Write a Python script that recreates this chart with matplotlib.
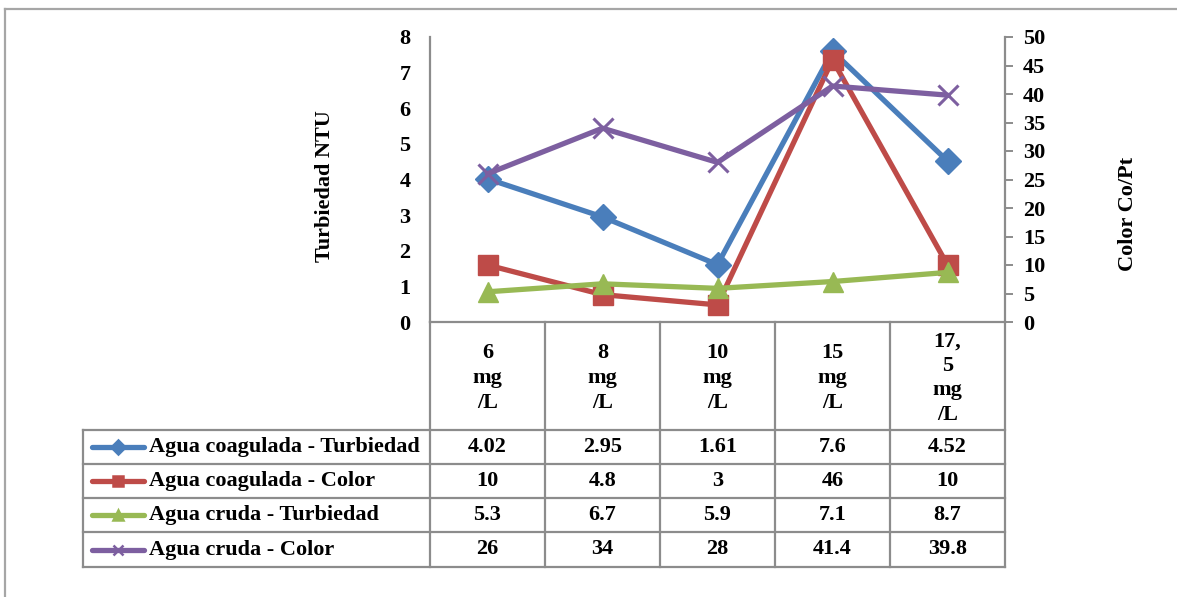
import matplotlib
matplotlib.use("Agg")
import matplotlib.pyplot as plt
from matplotlib.lines import Line2D

W, H = 1177, 597
DPI = 100

categories = ["6\nmg\n/L", "8\nmg\n/L", "10\nmg\n/L", "15\nmg\n/L", "17,\n5\nmg\n/L"]
coag_turb = [4.02, 2.95, 1.61, 7.6, 4.52]
coag_color = [10, 4.8, 3, 46, 10]
cruda_turb = [5.3, 6.7, 5.9, 7.1, 8.7]
cruda_color = [26, 34, 28, 41.4, 39.8]
series_names = ["Agua coagulada - Turbiedad", "Agua coagulada - Color",
                "Agua cruda - Turbiedad", "Agua cruda - Color"]
left_ticks = [0, 1, 2, 3, 4, 5, 6, 7, 8]
right_ticks = [0, 5, 10, 15, 20, 25, 30, 35, 40, 45, 50]

colors = ["#4A7EBB", "#BE4B48", "#98B954", "#7D5FA0"]
markers = ["D", "s", "^", "x"]
msizes = [13, 14, 14, 14]
FONT = "Liberation Serif"
GRID = "#8c8c8c"
FS = 16

plt.rcParams["font.family"] = [FONT, "DejaVu Serif"]
plt.rcParams["font.weight"] = "bold"

fig = plt.figure(figsize=(W / DPI, H / DPI), dpi=DPI)


def fx(x):
    return x / W


def fy(y):
    return 1 - y / H


# plot area in pixels
L, R, T, B = 430, 1005, 37, 322
ax = fig.add_axes([fx(L), fy(B), fx(R - L), (B - T) / H])
ax2 = ax.twinx()
n = len(categories)
xs = list(range(n))

ax.set_xlim(-0.5, n - 0.5)
ax.set_ylim(0, 8)
ax2.set_ylim(0, 50)
ax.set_yticks(left_ticks)
ax2.set_yticks(right_ticks)
ax.set_xticks([])

for a in (ax, ax2):
    for s in a.spines.values():
        s.set_visible(False)
ax.spines["left"].set_visible(True)
ax.spines["left"].set_color(GRID)
ax.spines["left"].set_linewidth(1.6)
ax.spines["bottom"].set_visible(True)
ax.spines["bottom"].set_color(GRID)
ax.spines["bottom"].set_linewidth(1.6)
ax2.spines["right"].set_visible(True)
ax2.spines["right"].set_color(GRID)
ax2.spines["right"].set_linewidth(1.6)

ax.tick_params(axis="y", length=0, pad=14, labelsize=FS)
ax2.tick_params(axis="y", length=6, width=1.4, color=GRID, pad=7, labelsize=FS)
for lab in ax.get_yticklabels() + ax2.get_yticklabels():
    lab.set_fontweight("bold")

lw = 3.8
ax.plot(xs, coag_turb, color=colors[0], marker=markers[0], ms=msizes[0], lw=lw,
        solid_capstyle="round", zorder=3, clip_on=False)
ax2.plot(xs, coag_color, color=colors[1], marker=markers[1], ms=msizes[1], lw=lw,
         solid_capstyle="round", zorder=3, clip_on=False)
ax2.plot(xs, cruda_turb, color=colors[2], marker=markers[2], ms=msizes[2], lw=lw,
         solid_capstyle="round", zorder=3, clip_on=False)
ax2.plot(xs, cruda_color, color=colors[3], marker=markers[3], ms=msizes[3], lw=lw,
         mew=2.2, solid_capstyle="round", zorder=3, clip_on=False)

# axis titles
fig.text(fx(325), fy(186), "Turbiedad NTU", rotation=90, ha="center", va="center",
         fontsize=FS, fontweight="bold")
fig.text(fx(1128), fy(214), "Color Co/Pt", rotation=90, ha="center", va="center",
         fontsize=FS, fontweight="bold")

# outer frame
fig.add_artist(Line2D([fx(5), fx(5)], [fy(9), fy(597)], color="#a6a6a6", lw=1.6))
fig.add_artist(Line2D([fx(5), fx(1177)], [fy(9), fy(9)], color="#a6a6a6", lw=1.6))

# data table
col_w = (R - L) / n
row_edges = [430, 464, 498, 532, 567]
TL = 83


def hline(x0, x1, y):
    fig.add_artist(Line2D([fx(x0), fx(x1)], [fy(y), fy(y)], color=GRID, lw=1.6))


def vline(x, y0, y1):
    fig.add_artist(Line2D([fx(x), fx(x)], [fy(y0), fy(y1)], color=GRID, lw=1.6))


for i in range(n + 1):
    vline(L + i * col_w, B, row_edges[-1])
vline(TL, row_edges[0], row_edges[-1])
for y in row_edges:
    hline(TL, R, y)

for i, c in enumerate(categories):
    fig.text(fx(L + (i + 0.5) * col_w), fy((B + row_edges[0]) / 2 + 2), c,
             ha="center", va="center", fontsize=FS, fontweight="bold", linespacing=1.3)

all_series = [coag_turb, coag_color, cruda_turb, cruda_color]
for r, vals in enumerate(all_series):
    yc = (row_edges[r] + row_edges[r + 1]) / 2
    for i, v in enumerate(vals):
        fig.text(fx(L + (i + 0.5) * col_w), fy(yc), f"{v:g}", ha="center", va="center",
                 fontsize=FS, fontweight="bold")
    fig.add_artist(Line2D([fx(92), fx(144)], [fy(yc), fy(yc)], color=colors[r], lw=3.8,
                          solid_capstyle="round"))
    fig.add_artist(Line2D([fx(118)], [fy(yc)], color=colors[r], marker=markers[r],
                          ms=7, mew=1.8))
    fig.text(fx(149), fy(yc), series_names[r], ha="left", va="center",
             fontsize=FS, fontweight="bold")

fig.savefig("out.png", dpi=DPI)
